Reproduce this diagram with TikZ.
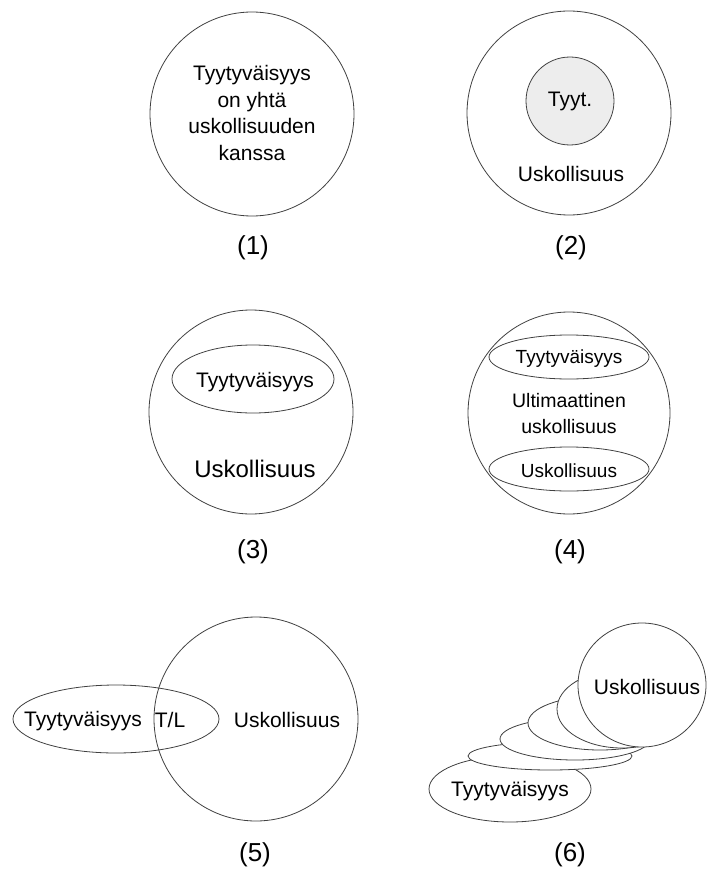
\documentclass[tikz,border=0pt]{standalone}
\usepackage{fontspec}
\setmainfont{Liberation Sans}
\usetikzlibrary{shapes.geometric}
\begin{document}
\begin{tikzpicture}[x=1pt,y=-1pt,
  outline/.style={draw=black!75, line width=0.8pt, inner sep=0pt, outer sep=0pt},
  ring/.style={outline, circle, minimum size=#1},
  oval/.style 2 args={outline, ellipse, minimum width=#1, minimum height=#2},
  txt/.style={inner sep=0pt, align=center, font=\fontsize{21}{26.5}\selectfont},
  small/.style={inner sep=0pt, align=center, font=\fontsize{19}{26}\selectfont},
  big/.style={inner sep=0pt, font=\fontsize{24}{28}\selectfont},
  caption/.style={inner sep=0pt, font=\fontsize{26}{30}\selectfont}]
\path[use as bounding box] (0,0) rectangle (708,872);

% (1) satisfaction equals loyalty
\node[ring=204pt] (c1) at (252,114) {};
\node[txt] (t1) at (252,113) {Tyytyväisyys\\on yhtä\\uskollisuuden\\kanssa};
\node[caption] (l1) at (253,248) {(1)};

% (2) satisfaction inside loyalty
\node[ring=204pt] (c2) at (569,113) {};
\node[ring=88pt, fill=black!7] (c2in) at (570,101) {};
\node[txt] (t2a) at (570,101) {Tyyt.};
\node[txt] (t2b) at (571,174) {Uskollisuus};
\node[caption] (l2) at (571,248) {(2)};

% (3) satisfaction as a part of loyalty
\node[ring=204pt] (c3) at (251,412) {};
\node[oval={162pt}{68pt}] (e3) at (253,379) {};
\node[txt] (t3a) at (255,382) {Tyytyväisyys};
\node[big] (t3b) at (255,469) {Uskollisuus};
\node[caption] (l3) at (253,552) {(3)};

% (4) ultimate loyalty
\node[ring=202pt] (c4) at (569,413) {};
\node[oval={160pt}{44pt}] (e4a) at (569,357) {};
\node[oval={160pt}{44pt}] (e4b) at (569,469) {};
\node[small] (t4a) at (569,359) {Tyytyväisyys};
\node[txt, font=\fontsize{19.5}{26}\selectfont] (t4m) at (569,414) {Ultimaattinen\\uskollisuus};
\node[small] (t4b) at (569,471) {Uskollisuus};
\node[caption] (l4) at (570,552) {(4)};

% (5) overlapping satisfaction and loyalty
\node[ring=204pt] (c5) at (256,719) {};
\node[oval={206pt}{68pt}] (e5) at (116,719) {};
\node[txt] (t5a) at (83,721) {Tyytyväisyys};
\node[txt] (t5b) at (170,720) {T/L};
\node[txt] (t5c) at (287,720) {Uskollisuus};
\node[caption] (l5) at (255,855) {(5)};

% (6) satisfaction turning into loyalty step by step
\node[oval={162pt}{66pt}, fill=white] (s0) at (510,789) {};
\node[txt] (t6a) at (510,791) {Tyytyväisyys};
\node[oval={164pt}{28pt}, fill=white] (s1) at (550,756) {};
\node[oval={150pt}{42pt}, fill=white] (s2) at (575,739) {};
\node[oval={144pt}{54pt}, fill=white] (s3) at (600,723) {};
\node[oval={130pt}{78pt}, fill=white] (s4) at (622,709) {};
\node[oval={128pt}{124pt}, fill=white] (s5) at (642,685) {};
\node[txt] (t6b) at (647,687) {Uskollisuus};
\node[caption] (l6) at (570,855) {(6)};
\end{tikzpicture}
\end{document}
